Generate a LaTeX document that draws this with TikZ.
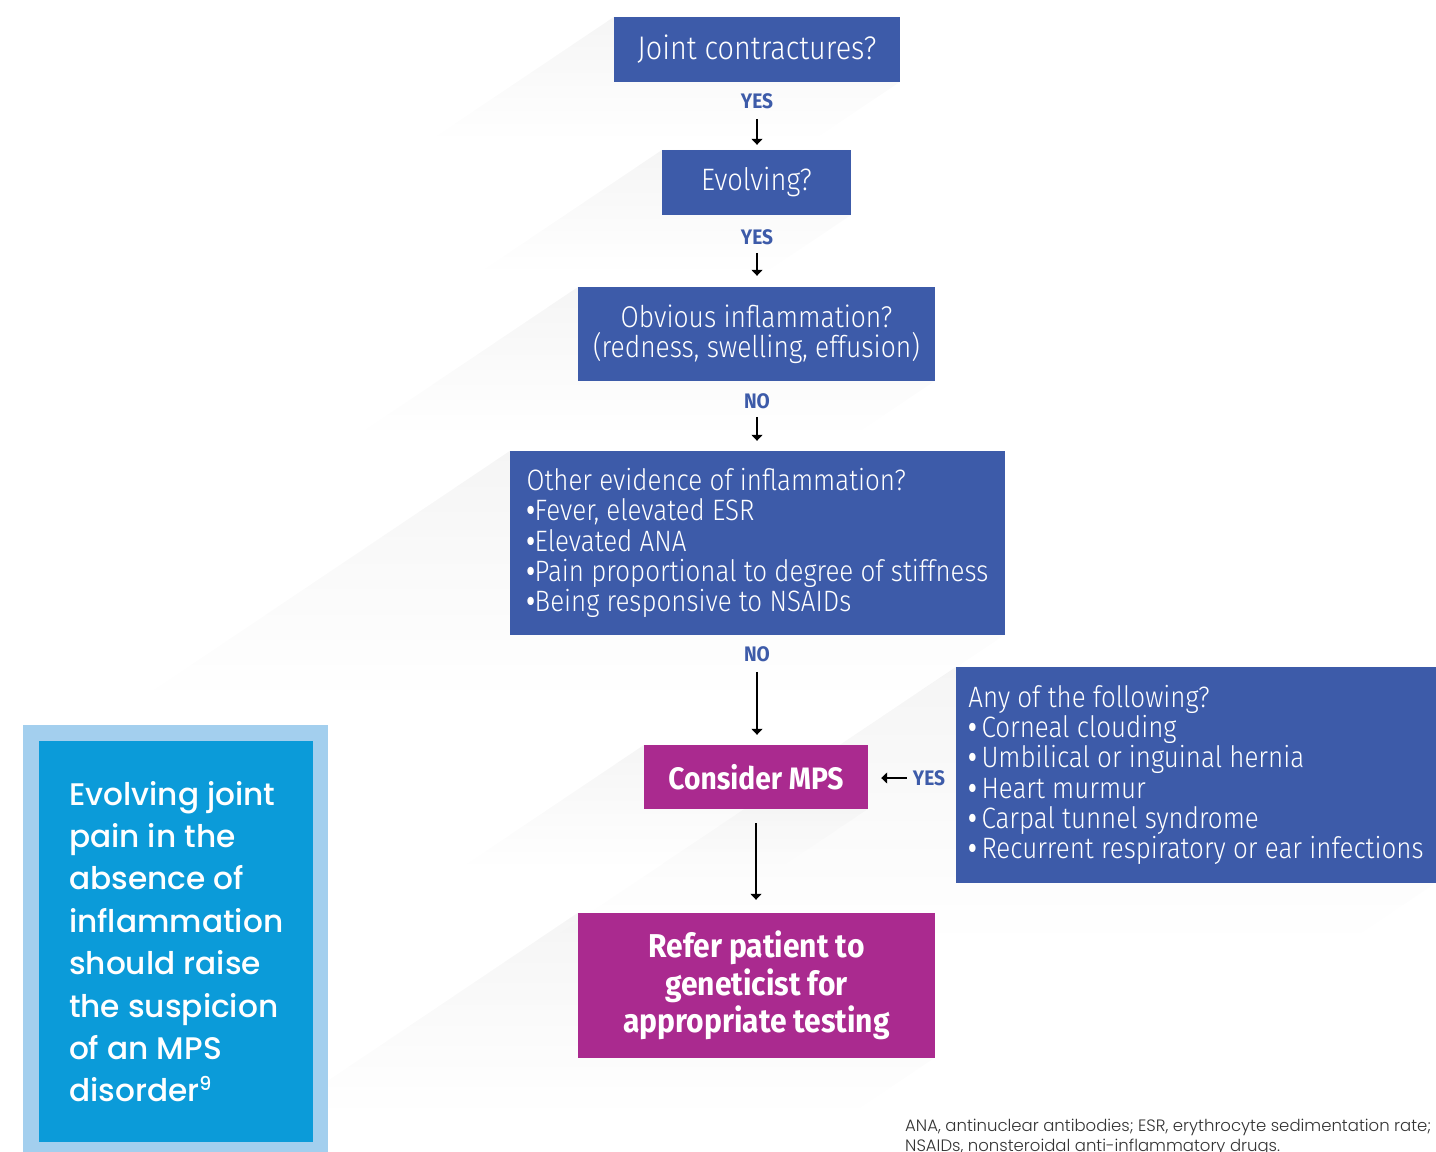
\documentclass[tikz,border=0pt]{standalone}
\usepackage{fontspec}
\usetikzlibrary{arrows.meta,fadings}
\IfFontExistsTF{Fira Sans Light}{\newfontfamily\lightf{Fira Sans Light}[FakeStretch=0.88]}{\newfontfamily\lightf{Fira Sans}[FakeStretch=0.88]}
\newfontfamily\boldf{Fira Sans}[FakeStretch=0.91]
\newfontfamily\bulf{Fira Sans}[FakeStretch=0.8]
\IfFontExistsTF{Poppins Medium}{\newfontfamily\popm{Poppins Medium}}{\newfontfamily\popm{Poppins}}
\IfFontExistsTF{Poppins Light}{\newfontfamily\popl{Poppins Light}}{\newfontfamily\popl{Poppins}}
\definecolor{boxblue}{HTML}{3D5BA9}
\definecolor{boxmag}{HTML}{AA2A8F}
\definecolor{lblue}{HTML}{A3CFEE}
\definecolor{cblue}{HTML}{0B9BD9}
\definecolor{fngray}{HTML}{333333}
\tikzfading[name=shfade, top color=transparent!45, middle color=transparent!0, bottom color=transparent!100]
\newcommand{\lshadow}[5]{\fill[shadowfill] (#1,#2) -- (#3,#2) -- (#3,#4) -- ({#3-(#2+#5-#4)*1.49},{#2+#5}) -- ({#1-#5*1.49},{#2+#5}) -- cycle;}
\newcommand{\bul}{{\bulf\bfseries •}}
\begin{document}
\begin{tikzpicture}[x=1pt,y=-1pt,
  shadowfill/.style={fill=black, fill opacity=0.07, path fading=shfade},
  bluebox/.style={fill=boxblue, text=white, inner sep=0pt, align=left,
    font=\lightf\fontsize{29.5}{30.3}\selectfont},
  magbox/.style={fill=boxmag, text=white, inner sep=0pt, align=center,
    font=\boldf\bfseries\fontsize{31}{37.5}\selectfont},
  lbl/.style={text=boxblue, inner sep=1pt, font=\boldf\bfseries\fontsize{21}{21}\selectfont},
  arr/.style={-{Triangle[length=6pt,width=11pt]}, line width=1.3pt, black},
  sidetext/.style={text=white, inner sep=0pt, align=left, font=\popm\fontsize{31.2}{42.4}\selectfont},
  fnote/.style={text=fngray, inner sep=0pt, anchor=base west, font=\popl\fontsize{16.5}{20}\selectfont}]
\useasboundingbox (0,0) rectangle (1436,1152);
% long shadows
\lshadow{614}{17}{900}{82}{125}
\lshadow{662}{150}{851}{215}{125}
\lshadow{578}{287}{935}{381}{150}
\lshadow{510}{451}{1005}{635}{252}
\lshadow{956}{667}{1436}{883}{280}
\lshadow{644}{745}{868}{809}{125}
\lshadow{578}{913}{935}{1058}{205}
% boxes
\node[bluebox, font=\lightf\fontsize{32.7}{33}\selectfont, minimum width=286, minimum height=65] (q1) at (757,49.5) {Joint contractures?};
\node[bluebox, font=\lightf\fontsize{31}{33}\selectfont, minimum width=189, minimum height=65] (q2) at (756.5,182.5) {Evolving?};
\node[bluebox, align=center, font=\lightf\fontsize{30}{30.3}\selectfont, minimum width=357, minimum height=94] (q3) at (756.5,334) {Obvious inflammation?\\(redness, swelling, effusion)};
\node[bluebox, minimum width=495, minimum height=184] (q4) at (757.5,543) {Other evidence of inflammation?\\\bul Fever, elevated ESR\\\bul Elevated ANA\\\bul Pain proportional to degree of stiffness\\\bul Being responsive to NSAIDs};
\node[magbox, minimum width=224, minimum height=64] (mps) at (756,777) {Consider MPS};
\node[bluebox, minimum width=480, minimum height=216] (any) at (1196,775) {Any of the following?\\\bul\,Corneal clouding\\\bul\,Umbilical or inguinal hernia\\\bul\,Heart murmur\\\bul\,Carpal tunnel syndrome\\\bul\,Recurrent respiratory or ear infections};
\node[magbox, font=\boldf\bfseries\fontsize{33}{37.5}\selectfont, minimum width=357, minimum height=145] (ref) at (756.5,985.5) {Refer patient to\\geneticist for\\appropriate testing};
% labels
\node[lbl] (l1) at (757,101) {YES};
\node[lbl] (l2) at (757,237) {YES};
\node[lbl] (l3) at (757,401) {NO};
\node[lbl] (l4) at (757,654) {NO};
\node[lbl] (l5) at (929,778) {YES};
% arrows
\draw[arr, shorten <=9pt, shorten >=5pt] (l1.south) -- (l1.south |- q2.north);
\draw[arr, shorten <=7pt, shorten >=11pt] (l2.south) -- (l2.south |- q3.north);
\draw[arr, shorten <=7pt, shorten >=10pt] (l3.south) -- (l3.south |- q4.north);
\draw[arr, shorten <=9pt, shorten >=10pt] (l4.south) -- (l4.south |- mps.north);
\draw[arr, shorten <=14pt, shorten >=13pt] (mps.south) -- (mps.south |- ref.north);
\draw[arr, shorten <=5pt, shorten >=13pt] (l5.west) -- (l5.west -| mps.east);
% side panel
\node[fill=lblue, inner sep=0pt, anchor=north west, minimum width=305, minimum height=440] (side) at (23,725) {};
\node[fill=cblue, inner sep=0pt, anchor=north west, minimum width=274, minimum height=401] (sidein) at (39,741) {};
\node[sidetext] (sidetxt) at (sidein.center) {Evolving joint\\pain in the\\absence of\\inflammation\\should raise\\the suspicion\\of an MPS\\disorder\raisebox{0.38em}{\fontsize{19}{19}\selectfont 9}};
% footnote
\node[fnote] (fn1) at (905,1131) {ANA, antinuclear antibodies; ESR, erythrocyte sedimentation rate;};
\node[fnote] (fn2) at (905,1151) {NSAIDs, nonsteroidal anti-inflammatory drugs.};
\end{tikzpicture}
\end{document}
